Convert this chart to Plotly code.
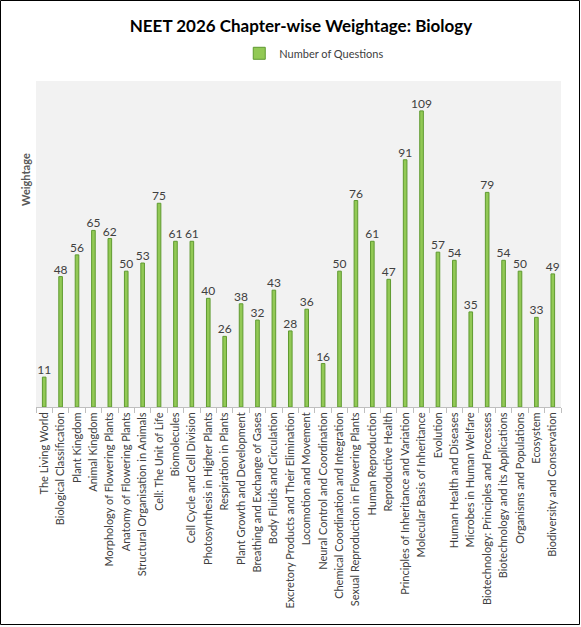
import plotly.graph_objects as go

chapters = [
    "The Living World", "Biological Classification", "Plant Kingdom", "Animal Kingdom",
    "Morphology of Flowering Plants", "Anatomy of Flowering Plants",
    "Structural Organisation in Animals", "Cell: The Unit of Life", "Biomolecules",
    "Cell Cycle and Cell Division", "Photosynthesis in Higher Plants", "Respiration in Plants",
    "Plant Growth and Development", "Breathing and Exchange of Gases",
    "Body Fluids and Circulation", "Excretory Products and Their Elimination",
    "Locomotion and Movement", "Neural Control and Coordination",
    "Chemical Coordination and Integration", "Sexual Reproduction in Flowering Plants",
    "Human Reproduction", "Reproductive Health", "Principles of Inheritance and Variation",
    "Molecular Basis of Inheritance", "Evolution", "Human Health and Diseases",
    "Microbes in Human Welfare", "Biotechnology: Principles and Processes",
    "Biotechnology and its Applications", "Organisms and Populations", "Ecosystem",
    "Biodiversity and Conservation",
]
questions = [11, 48, 56, 65, 62, 50, 53, 75, 61, 61, 40, 26, 38, 32, 43, 28,
             36, 16, 50, 76, 61, 47, 91, 109, 57, 54, 35, 79, 54, 50, 33, 49]

FONT = "Lato"
W, H = 581, 627
L, R, T, B = 36, 20, 81, 220
pw, ph = W - L - R, H - T - B

fig = go.Figure()
fig.add_trace(go.Bar(
    x=chapters, y=questions, name="Number of Questions",
    marker=dict(color="#92c955", line=dict(color="#5f9a30", width=1)),
    text=questions, textposition="outside", cliponaxis=False, constraintext="none",
    textfont=dict(family=FONT, size=12, color="#404040"),
))

fig.update_layout(
    width=W, height=H,
    margin=dict(l=L, r=R, t=T, b=B),
    paper_bgcolor="white", plot_bgcolor="#f2f2f2",
    bargap=0.78,
    font=dict(family=FONT, color="#404040"),
    title=dict(text="<b>NEET 2026 Chapter-wise Weightage: Biology</b>",
               x=0.518, xanchor="center", y=0.958, yanchor="middle",
               font=dict(family=FONT, size=17, color="black")),
    showlegend=True,
    legend=dict(orientation="h", x=0.53, xanchor="center", y=1.085, yanchor="middle",
                itemwidth=30, font=dict(family=FONT, size=11, color="#404040"),
                bgcolor="rgba(0,0,0,0)"),
    xaxis=dict(tickangle=-90, tickfont=dict(family=FONT, size=11, color="#404040"),
               showline=True, linecolor="#bfbfbf", ticks="outside", ticklen=5,
               tickcolor="#bfbfbf", tickson="boundaries", showgrid=False),
    yaxis=dict(range=[0, 120], showticklabels=False, showgrid=False,
               zeroline=False, showline=False),
)

fig.add_annotation(text="<b>Weightage</b>", textangle=-90, xref="paper", yref="paper",
                   x=-11 / pw, y=(407 - 180) / ph, xanchor="center", yanchor="middle",
                   showarrow=False, font=dict(family=FONT, size=11, color="#595959"))

# outer frame round the whole chart
fig.add_shape(type="rect", xref="paper", yref="paper",
              x0=(0.5 - L) / pw, x1=(W - 1.5 - L) / pw,
              y0=(407 - (H - 2.5)) / ph, y1=(407 - 0.5) / ph,
              line=dict(color="black", width=1), layer="above")

fig.write_html("out.html", config={"displayModeBar": False},
               post_script="document.body.style.margin='0';")
